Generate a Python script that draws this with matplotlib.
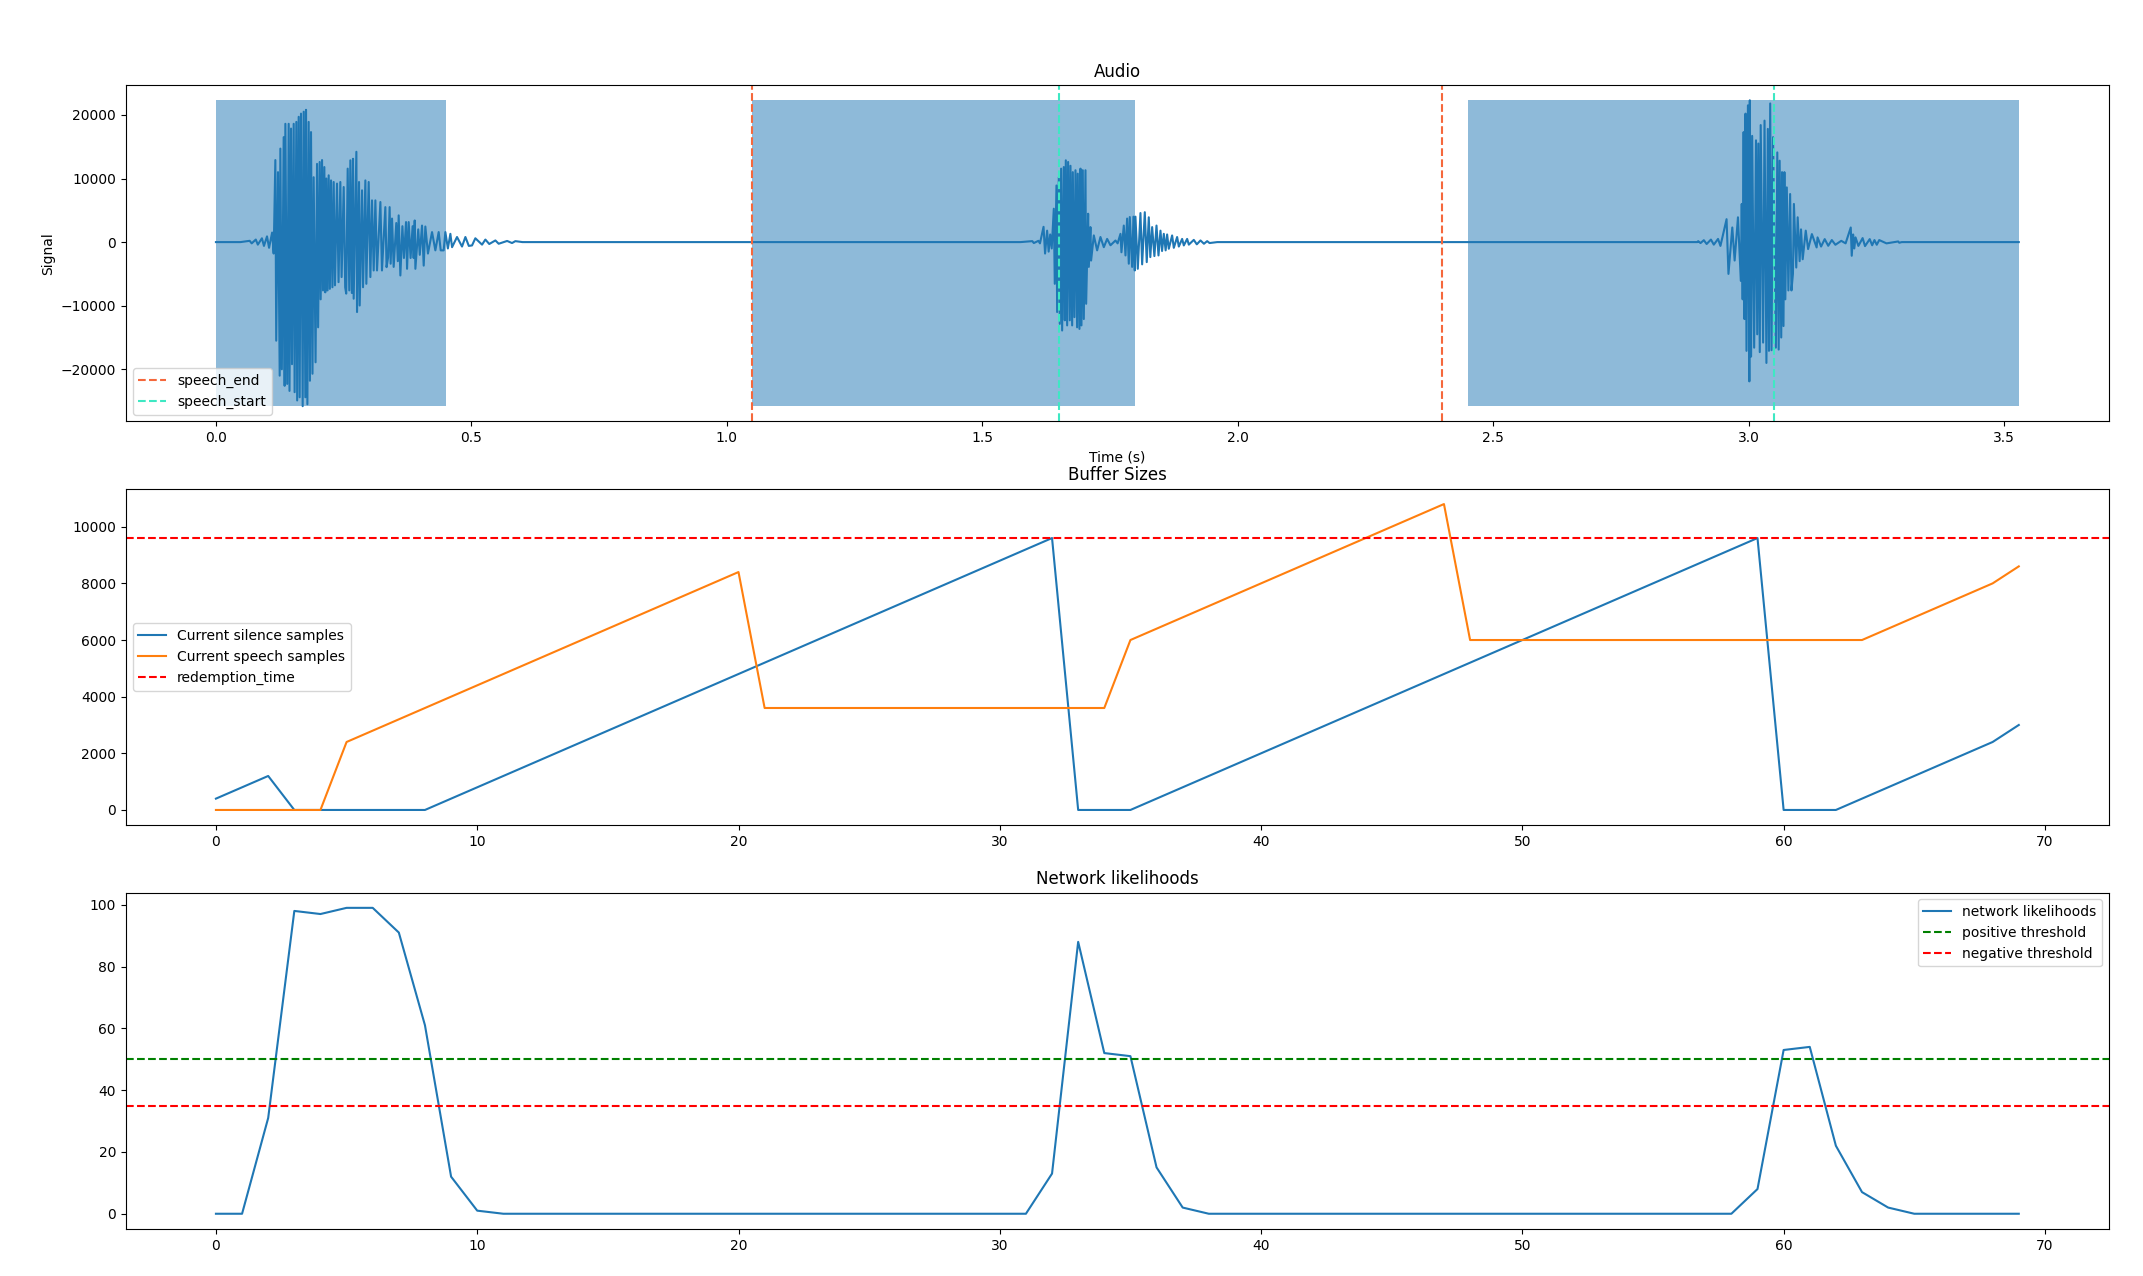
import matplotlib.pyplot as plt

# Audio waveform as (time s, amplitude) peaks
burst1 = [
    (0.0, 0), (0.048, 0), (0.066, 200), (0.070, -200), (0.078, 400), (0.082, -400),
    (0.090, 600), (0.094, -600), (0.100, 900), (0.104, -900), (0.110, 1500), (0.113, -1800),
    (0.1163, 12900), (0.1180, -15500), (0.1215, 11000), (0.1248, -21000), (0.1261, 14700),
    (0.1290, -20000), (0.1326, 16500), (0.1345, -22600), (0.1359, 18600), (0.1395, -22300),
    (0.1424, 18600), (0.1440, -23400), (0.1470, 17850), (0.1489, -19200), (0.1522, 18600),
    (0.1540, -23600), (0.1574, 18900), (0.1590, -24900), (0.1620, 19700), (0.1639, -24400),
    (0.1665, 20200), (0.1698, -25800), (0.1718, 20500), (0.1750, -24400), (0.1763, 20800),
    (0.1790, -25500), (0.1815, 18900), (0.1840, -21800), (0.1861, 17300), (0.1890, -20700),
    (0.1913, 10200), (0.1950, -18900), (0.1979, 12300), (0.2000, -13400), (0.2031, 12600),
    (0.2050, -9000), (0.2077, 12900), (0.2096, -7600), (0.2122, 11800), (0.2140, -7900),
    (0.2161, 10000), (0.2185, -7600), (0.2207, 10500), (0.2230, -7350), (0.2253, 9700),
    (0.2280, -7100), (0.2305, 9450), (0.2330, -6800), (0.2370, 9200), (0.2400, -6300),
    (0.2435, 9450), (0.2460, -5500), (0.2501, 8660), (0.2530, -7100), (0.2550, -8100),
    (0.2579, 11550), (0.2610, -7600), (0.2631, 12860), (0.2660, -8000), (0.2683, 13100),
    (0.2696, -8900), (0.2749, 14200), (0.2762, -11000), (0.2801, 9450), (0.2814, -9970),
    (0.2860, 8140), (0.2879, -7100), (0.2925, 9700), (0.2944, -6560), (0.2990, 9450),
    (0.3023, -5500), (0.3055, 6560), (0.3088, -4460), (0.3121, 6560), (0.3153, -4460),
    (0.3219, 6300), (0.3250, -4460), (0.3316, 5500), (0.3340, -3940), (0.3370, -2400),
    (0.3400, 5500), (0.3420, -3400), (0.3447, 3700), (0.3479, -3900), (0.3530, 3000),
    (0.3560, -3000), (0.3577, 4200), (0.3610, -5250), (0.3650, 2500), (0.3680, -2500),
    (0.3721, 3150), (0.3741, -4200), (0.3773, 3150), (0.3810, -2500), (0.3850, 2500),
    (0.3870, -2500), (0.3891, 3400), (0.3904, -4200), (0.3960, 2000), (0.3990, -2000),
    (0.4034, 2600), (0.4067, -3700), (0.4099, 2450), (0.4150, -1800), (0.4230, 1575),
    (0.4295, -1300), (0.4360, 1575), (0.4400, -1300), (0.4458, -1300), (0.4491, 1575),
    (0.4540, -1000), (0.4589, 1300), (0.4622, -800), (0.4719, 800), (0.4817, -700),
    (0.4883, 800), (0.4950, -600), (0.5013, -525), (0.5078, 600), (0.5209, -400),
    (0.5274, 400), (0.5350, -300), (0.5470, 260), (0.5535, -260), (0.5700, 180),
    (0.5796, -150), (0.5861, 150), (0.600, 0),
]
burst2 = [
    (1.575, 0), (1.598, 150), (1.601, -150), (1.610, 200), (1.613, -200),
    (1.620, 2400), (1.623, -1800), (1.627, 1800), (1.630, -1500), (1.633, 1200), (1.636, -1000),
    (1.6401, 5250), (1.6420, -6560), (1.6453, 8900), (1.6466, -11000), (1.6499, 10200),
    (1.6518, -12860), (1.6544, 11550), (1.6564, -13900), (1.6596, 11800), (1.6616, -12300),
    (1.6636, 12860), (1.6662, -13100), (1.6681, 12600), (1.6714, -12300), (1.6727, 12000),
    (1.6760, -13100), (1.6773, 11000), (1.6805, -11800), (1.6825, 11300), (1.6857, -13400),
    (1.6870, 10760), (1.6903, -13650), (1.6923, 11550), (1.6942, -13100), (1.6968, 11300),
    (1.6988, -12100), (1.7021, 11300), (1.7034, -9700), (1.7073, 4460), (1.7086, -3900),
    (1.7118, 2360), (1.7131, -2900), (1.7184, 1050), (1.7249, -1300), (1.7314, 800),
    (1.7380, -800), (1.7445, 500), (1.7510, -500), (1.7608, 250), (1.7650, -200),
    (1.7706, 1300), (1.7725, -1600), (1.7771, 2600), (1.7804, -2100), (1.7836, 3700),
    (1.7869, -3400), (1.7888, 3940), (1.7934, -3900), (1.7960, 4000), (1.7986, -4460),
    (1.7999, 4000), (1.8045, -4200), (1.8097, 4570), (1.8130, -3500), (1.8182, 4700),
    (1.8220, -3150), (1.8260, 3900), (1.8290, -2360), (1.8326, 2360), (1.8370, -2200),
    (1.8411, 2600), (1.8450, -2100), (1.8489, 1800), (1.8520, -1400), (1.8554, 1300),
    (1.8590, -1300), (1.8619, 1200), (1.8652, -1050), (1.8717, 1050), (1.8750, -900),
    (1.8815, 800), (1.8848, -700), (1.8913, 500), (1.8946, -525), (1.9011, 500),
    (1.9044, -400), (1.9141, 350), (1.9200, -350), (1.9272, 260), (1.9340, -260),
    (1.9403, 150), (1.9450, -150), (1.960, 0),
]
burst3 = [
    (2.900, 0), (2.9014, 150), (2.9060, -150), (2.9125, 300), (2.9180, -300), (2.9264, 400),
    (2.9320, -400), (2.9403, 500), (2.9450, -600), (2.9570, 3600), (2.9607, -5000),
    (2.9682, 2300), (2.9728, -2900), (2.9793, 3900), (2.9849, -6100), (2.9867, 6000),
    (2.9885, -9000), (2.9904, 17300), (2.9920, -12100), (2.9941, 20200), (2.9960, -17100),
    (2.9988, 21500), (3.0016, -21900), (3.0025, 22300), (3.0050, -18000), (3.0071, 16700),
    (3.0110, -16600), (3.0146, 16000), (3.0170, -14500), (3.0192, 15500), (3.0220, -17300),
    (3.0238, 18400), (3.0285, -15800), (3.0313, 19100), (3.0350, -19000), (3.0378, 17800),
    (3.0400, -17100), (3.0424, 21800), (3.0450, -17000), (3.0480, 16500), (3.0535, -16600),
    (3.0563, 14100), (3.0590, -16900), (3.0609, 12800), (3.0640, -15000), (3.0656, 11000),
    (3.0684, -13200), (3.0702, 11000), (3.0720, -9000), (3.0749, 8600), (3.0780, -7600),
    (3.0814, 7560), (3.0840, -7600), (3.0869, -5000), (3.0888, 6000), (3.0934, -4000),
    (3.0962, 3900), (3.1000, -3000), (3.1027, 2000), (3.1060, -2700), (3.1120, 1800),
    (3.1166, -1100), (3.1240, 1260), (3.1333, -840), (3.1351, 740), (3.1420, -700),
    (3.1491, 470), (3.1560, -580), (3.1630, 320), (3.1700, -420), (3.1815, 200),
    (3.1900, -200), (3.2001, 2300), (3.2020, -2150), (3.2047, 1200), (3.2070, -1000),
    (3.2094, 740), (3.2150, -600), (3.2233, 630), (3.2280, -630), (3.2372, 470),
    (3.2420, -500), (3.2465, 320), (3.2510, -420), (3.2558, 320), (3.2700, -200),
    (3.2929, 100), (3.2950, -100), (3.300, 0), (3.529, 0),
]

speech_segments = [(0.0, 0.45), (1.05, 1.80), (2.45, 3.529)]
speech_end = [1.05, 2.40]
speech_start = [1.65, 3.05]

silence_samples = [400, 800, 1200, 0, 0, 0, 0, 0, 0, 400,
                   800, 1200, 1600, 2000, 2400, 2800, 3200, 3600, 4000, 4400,
                   4800, 5200, 5600, 6000, 6400, 6800, 7200, 7600, 8000, 8400,
                   8800, 9200, 9600, 0, 0, 0, 400, 800, 1200, 1600,
                   2000, 2400, 2800, 3200, 3600, 4000, 4400, 4800, 5200, 5600,
                   6000, 6400, 6800, 7200, 7600, 8000, 8400, 8800, 9200, 9600,
                   0, 0, 0, 400, 800, 1200, 1600, 2000, 2400, 3000]
speech_samples = [0, 0, 0, 0, 0, 2400, 2800, 3200, 3600, 4000,
                  4400, 4800, 5200, 5600, 6000, 6400, 6800, 7200, 7600, 8000,
                  8400, 3600, 3600, 3600, 3600, 3600, 3600, 3600, 3600, 3600,
                  3600, 3600, 3600, 3600, 3600, 6000, 6400, 6800, 7200, 7600,
                  8000, 8400, 8800, 9200, 9600, 10000, 10400, 10800, 6000, 6000,
                  6000, 6000, 6000, 6000, 6000, 6000, 6000, 6000, 6000, 6000,
                  6000, 6000, 6000, 6000, 6400, 6800, 7200, 7600, 8000, 8600]
redemption_time = 9600

likelihoods = [0, 0, 31, 98, 97, 99, 99, 91, 61, 12,
               1, 0, 0, 0, 0, 0, 0, 0, 0, 0,
               0, 0, 0, 0, 0, 0, 0, 0, 0, 0,
               0, 0, 13, 88, 52, 51, 15, 2, 0, 0,
               0, 0, 0, 0, 0, 0, 0, 0, 0, 0,
               0, 0, 0, 0, 0, 0, 0, 0, 0, 8,
               53, 54, 22, 7, 2, 0, 0, 0, 0, 0]
positive_threshold = 50
negative_threshold = 35

signal = burst1 + burst2 + burst3
time = [p[0] for p in signal]
values = [p[1] for p in signal]
sig_min, sig_max = min(values), max(values)

fig, (ax1, ax2, ax3) = plt.subplots(3, 1, figsize=(21.43, 12.76), dpi=100)
fig.subplots_adjust(left=0.0587, right=0.9841, top=0.9334, bottom=0.0368, hspace=0.2)

# Audio
ax1.plot(time, values, color='C0')
for start, end in speech_segments:
    ax1.fill_between([start, end], sig_min, sig_max, color='C0', alpha=0.5, linewidth=0)
for i, t in enumerate(speech_end):
    ax1.axvline(t, color='#f5683c', linestyle='--', label='speech_end' if i == 0 else None)
for i, t in enumerate(speech_start):
    ax1.axvline(t, color='#3ee8c3', linestyle='--', label='speech_start' if i == 0 else None)
ax1.set_title('Audio')
ax1.set_xlabel('Time (s)')
ax1.set_ylabel('Signal')
ax1.legend(loc='lower left')

# Buffer sizes
ax2.plot(silence_samples, label='Current silence samples')
ax2.plot(speech_samples, label='Current speech samples')
ax2.axhline(redemption_time, color='r', linestyle='--', label='redemption_time')
ax2.set_title('Buffer Sizes')
ax2.legend(loc='center left')

# Network likelihoods
ax3.plot(likelihoods, label='network likelihoods')
ax3.axhline(positive_threshold, color='g', linestyle='--', label='positive threshold')
ax3.axhline(negative_threshold, color='r', linestyle='--', label='negative threshold')
ax3.set_title('Network likelihoods')
ax3.legend(loc='upper right')

plt.savefig('out.png')
